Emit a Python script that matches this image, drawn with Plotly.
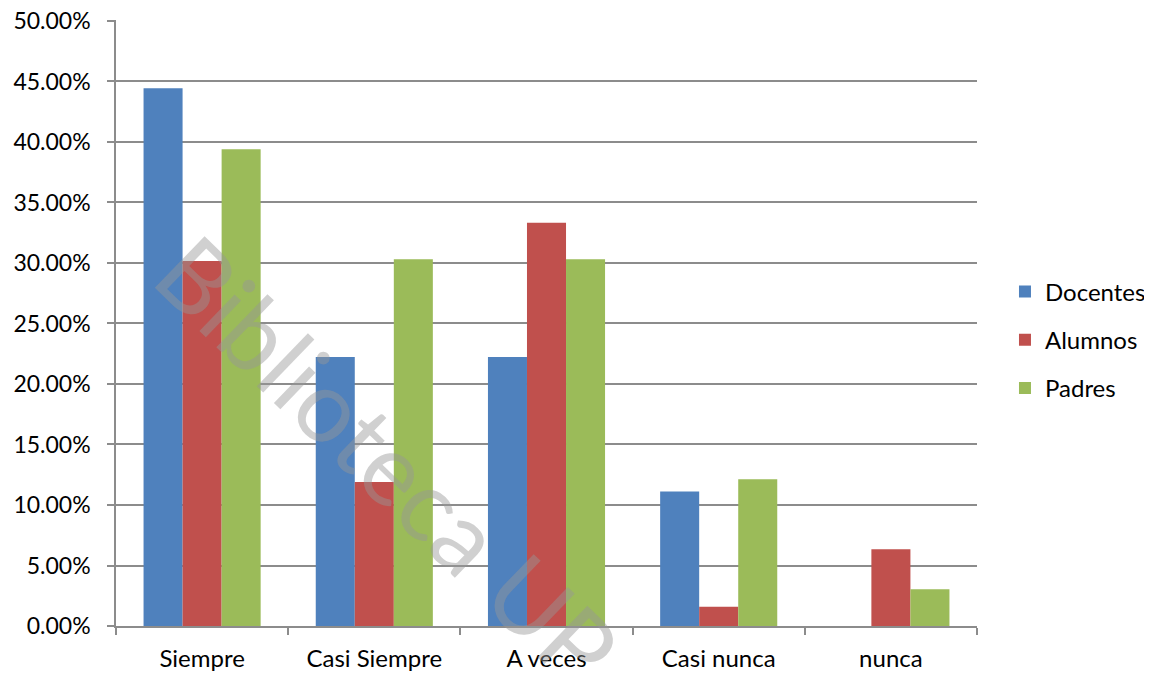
import plotly.graph_objects as go

categories = ["Siempre", "Casi Siempre", "A veces", "Casi nunca", "nunca"]
docentes = [0.4444, 0.2222, 0.2222, 0.1111, 0.0]
alumnos = [0.3016, 0.1190, 0.3333, 0.0159, 0.0635]
padres = [0.3939, 0.3030, 0.3030, 0.1212, 0.0303]
series_names = ["Docentes", "Alumnos", "Padres"]
colors = ["#4F81BD", "#C0504D", "#9BBB59"]
y_ticks = [0, 0.05, 0.10, 0.15, 0.20, 0.25, 0.30, 0.35, 0.40, 0.45, 0.50]

fig = go.Figure()
for name, vals, col in zip(series_names, [docentes, alumnos, padres], colors):
    fig.add_trace(go.Bar(x=categories, y=vals, name=name, marker_color=col,
                         marker_line_width=0, legendgroup=name))

fig.add_annotation(text="Biblioteca UP", xref="paper", yref="paper",
                   x=0.316, y=0.275, xanchor="center", yanchor="middle",
                   showarrow=False, textangle=44,
                   font=dict(family="Lato", size=100, color="rgba(150,150,150,0.45)", weight=400))

fig.update_layout(
    width=1152, height=675,
    margin=dict(l=108, r=183, t=12, b=57, autoexpand=False),
    paper_bgcolor="white", plot_bgcolor="white",
    barmode="group", bargap=0.32, bargroupgap=0,
    font=dict(family="Lato", size=22, color="#000000"),
    legend=dict(x=1.0325, y=0.472, xanchor="left", yanchor="middle",
                font=dict(size=24), tracegroupgap=14, itemwidth=30),
    showlegend=True,
)
fig.update_yaxes(range=[0, 0.5008], tickvals=y_ticks, tickformat=".2%",
                 showgrid=True, gridcolor="#8C8C8C", gridwidth=1.5,
                 showline=True, linecolor="#8C8C8C", linewidth=1.5,
                 ticks="outside", ticklen=7, tickcolor="#8C8C8C", tickwidth=1.5,
                 zeroline=False, tickfont=dict(size=23), automargin=False,
                 ticklabelstandoff=12, ticklabeloverflow="allow")
fig.update_xaxes(showline=True, linecolor="#8C8C8C", linewidth=1.5,
                 ticks="outside", tickson="boundaries", ticklen=7,
                 tickcolor="#8C8C8C", tickwidth=1.5, tickfont=dict(size=24),
                 automargin=False, ticklabelstandoff=10, ticklabeloverflow="allow")

fig.write_html("out.html")
